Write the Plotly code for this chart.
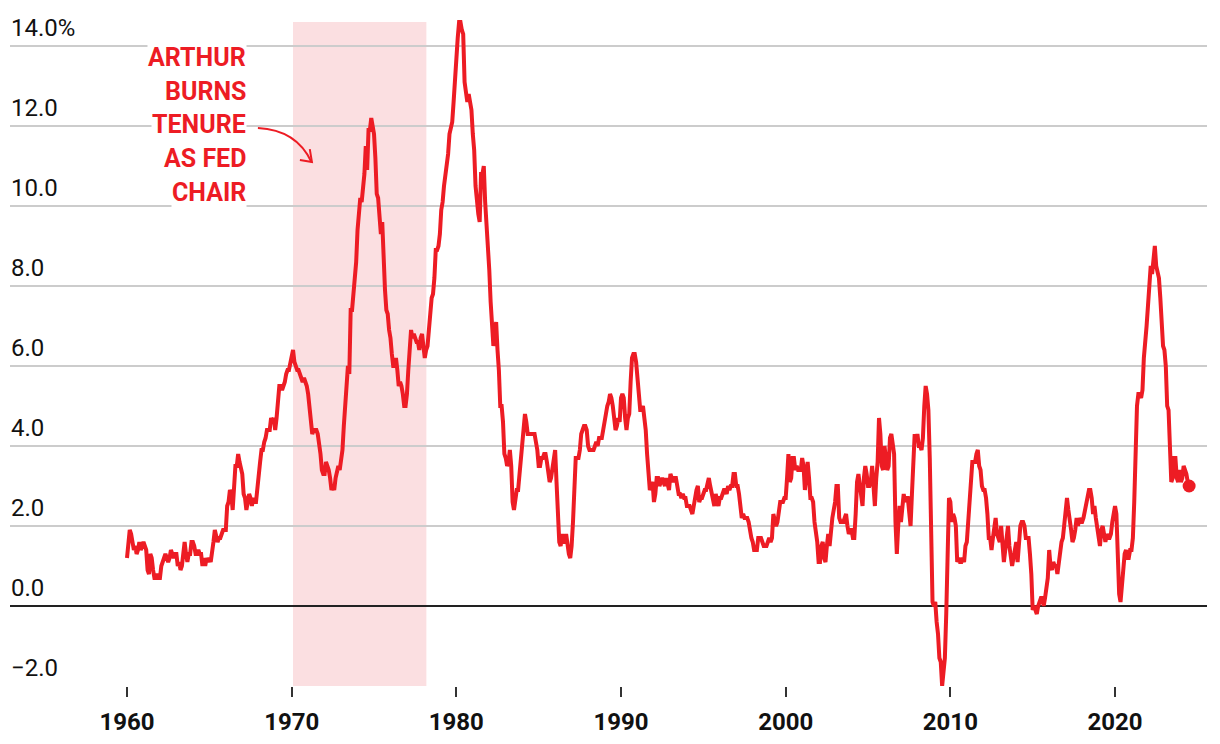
import numpy as np
import plotly.graph_objects as go

# Monthly CPI year-over-year change (%), Jan 1960 - Jul 2024
cpi_1960s = [
    1.2, 1.6, 1.9, 1.8, 1.6, 1.4, 1.5, 1.3, 1.4, 1.6, 1.4, 1.5,
    1.6, 1.5, 1.4, 0.9, 0.8, 1.3, 1.2, 0.9, 0.7, 0.7, 0.8, 0.7,
    0.7, 1.0, 1.1, 1.2, 1.3, 1.2, 1.1, 1.2, 1.4, 1.3, 1.2, 1.3,
    1.3, 1.0, 1.1, 0.9, 1.0, 1.3, 1.6, 1.3, 1.1, 1.3, 1.3, 1.6,
    1.6, 1.5, 1.3, 1.3, 1.4, 1.3, 1.3, 1.0, 1.2, 1.0, 1.2, 1.1,
    1.2, 1.1, 1.3, 1.6, 1.9, 1.7, 1.6, 1.7, 1.7, 1.8, 1.9, 1.9,
    1.9, 2.5, 2.6, 2.9, 2.8, 2.4, 2.9, 3.5, 3.5, 3.8, 3.6, 3.4,
    3.3, 2.8, 2.7, 2.4, 2.6, 2.8, 2.7, 2.5, 2.7, 2.6, 2.6, 3.0,
    3.4, 3.6, 3.9, 3.9, 4.1, 4.2, 4.4, 4.4, 4.4, 4.7, 4.6, 4.7,
    4.4, 4.7, 5.2, 5.5, 5.5, 5.4, 5.5, 5.6, 5.8, 5.9, 5.9, 6.1,
]
cpi_1970s = [
    6.2, 6.4, 6.1, 6.0, 5.9, 5.9, 5.8, 5.7, 5.6, 5.7, 5.6, 5.5,
    5.3, 5.0, 4.7, 4.3, 4.4, 4.4, 4.4, 4.3, 4.1, 3.8, 3.4, 3.3,
    3.3, 3.6, 3.5, 3.4, 3.2, 2.9, 3.0, 2.9, 3.2, 3.4, 3.5, 3.4,
    3.6, 3.9, 4.5, 5.1, 5.5, 6.0, 5.8, 7.4, 7.4, 7.8, 8.2, 8.6,
    9.4, 10.0, 10.2, 10.1, 10.5, 10.8, 11.5, 10.9, 11.9, 11.9, 12.2, 12.0,
    11.8, 11.2, 10.3, 10.2, 9.5, 9.3, 9.6, 8.6, 7.9, 7.4, 7.3, 6.9,
    6.7, 6.3, 6.0, 6.0, 6.2, 5.9, 5.5, 5.6, 5.5, 5.3, 5.0, 5.0,
    5.3, 5.9, 6.4, 6.9, 6.7, 6.8, 6.7, 6.6, 6.6, 6.4, 6.7, 6.8,
    6.5, 6.2, 6.4, 6.5, 6.9, 7.4, 7.7, 7.8, 8.2, 8.9, 8.9, 9.0,
    9.3, 9.9, 10.1, 10.5, 10.8, 10.9, 11.3, 11.8, 12.0, 12.1, 12.6, 13.3,
]
cpi_1980s = [
    13.9, 14.2, 14.6, 14.6, 14.4, 14.3, 13.1, 12.9, 12.6, 12.8, 12.6, 12.4,
    11.8, 11.4, 10.5, 10.0, 9.8, 9.6, 10.8, 10.8, 11.0, 10.1, 9.6, 8.9,
    8.4, 7.6, 6.8, 6.5, 6.7, 7.1, 6.4, 5.9, 5.0, 5.0, 4.6, 3.8,
    3.7, 3.5, 3.6, 3.9, 3.5, 2.6, 2.4, 2.6, 2.9, 2.9, 3.3, 3.8,
    4.2, 4.6, 4.8, 4.6, 4.3, 4.3, 4.3, 4.3, 4.3, 4.3, 4.1, 3.9,
    3.5, 3.5, 3.7, 3.7, 3.8, 3.8, 3.6, 3.3, 3.1, 3.2, 3.5, 3.8,
    3.9, 3.1, 2.2, 1.6, 1.5, 1.8, 1.6, 1.6, 1.8, 1.5, 1.3, 1.2,
    1.5, 2.1, 3.0, 3.7, 3.7, 3.7, 3.9, 4.3, 4.4, 4.5, 4.5, 4.4,
    4.0, 3.9, 3.9, 3.9, 3.9, 4.0, 4.1, 4.0, 4.2, 4.2, 4.2, 4.4,
    4.7, 4.8, 5.0, 5.1, 5.3, 5.2, 5.0, 4.7, 4.4, 4.5, 4.7, 4.6,
]
cpi_1990s = [
    5.2, 5.3, 5.2, 4.7, 4.4, 4.7, 4.8, 5.6, 6.2, 6.3, 6.3, 6.1,
    5.7, 5.3, 4.9, 4.9, 5.0, 4.7, 4.4, 3.8, 3.4, 2.9, 3.0, 3.1,
    2.6, 2.8, 3.2, 3.2, 3.0, 3.1, 3.2, 3.1, 3.0, 3.2, 3.0, 2.9,
    3.3, 3.2, 3.1, 3.2, 3.2, 3.0, 2.8, 2.8, 2.7, 2.8, 2.7, 2.7,
    2.5, 2.5, 2.5, 2.4, 2.3, 2.5, 2.8, 2.9, 3.0, 2.6, 2.7, 2.7,
    2.8, 2.9, 2.9, 3.1, 3.2, 3.0, 2.8, 2.6, 2.5, 2.8, 2.6, 2.5,
    2.7, 2.7, 2.8, 2.9, 2.9, 2.8, 3.0, 2.9, 3.0, 3.0, 3.3, 3.3,
    3.0, 3.0, 2.8, 2.5, 2.2, 2.3, 2.2, 2.2, 2.2, 2.1, 1.8, 1.7,
    1.6, 1.4, 1.4, 1.4, 1.7, 1.7, 1.7, 1.6, 1.5, 1.5, 1.5, 1.6,
    1.7, 1.6, 1.7, 2.3, 2.1, 2.0, 2.1, 2.3, 2.6, 2.6, 2.6, 2.7,
]
cpi_2000s = [
    2.7, 3.2, 3.8, 3.1, 3.2, 3.7, 3.7, 3.4, 3.5, 3.4, 3.4, 3.4,
    3.7, 3.5, 2.9, 3.3, 3.6, 3.2, 2.7, 2.7, 2.6, 2.1, 1.9, 1.6,
    1.1, 1.1, 1.5, 1.6, 1.2, 1.1, 1.5, 1.8, 1.5, 2.0, 2.2, 2.4,
    2.6, 3.0, 3.0, 2.2, 2.1, 2.1, 2.1, 2.2, 2.3, 2.0, 1.8, 1.9,
    1.9, 1.7, 1.7, 2.3, 3.1, 3.3, 3.0, 2.7, 2.5, 3.2, 3.5, 3.3,
    3.0, 3.0, 3.1, 3.5, 2.8, 2.5, 3.2, 3.6, 4.7, 4.3, 3.5, 3.4,
    4.0, 3.6, 3.4, 3.5, 4.2, 4.3, 4.1, 3.8, 2.1, 1.3, 2.0, 2.5,
    2.1, 2.4, 2.8, 2.6, 2.7, 2.7, 2.4, 2.0, 2.8, 3.5, 4.3, 4.1,
    4.3, 4.0, 4.0, 3.9, 4.2, 5.0, 5.5, 5.3, 4.9, 3.7, 1.1, 0.1,
    0.0, 0.1, -0.4, -0.7, -1.3, -1.4, -2.0, -1.5, -1.3, -0.2, 1.8, 2.7,
]
cpi_2010s = [
    2.6, 2.1, 2.3, 2.2, 2.0, 1.1, 1.2, 1.1, 1.1, 1.2, 1.1, 1.5,
    1.6, 2.1, 2.7, 3.2, 3.6, 3.6, 3.6, 3.8, 3.9, 3.5, 3.4, 3.0,
    2.9, 2.9, 2.7, 2.3, 1.7, 1.7, 1.4, 1.7, 2.0, 2.2, 1.8, 1.7,
    1.6, 2.0, 1.5, 1.1, 1.4, 1.8, 2.0, 1.5, 1.2, 1.0, 1.2, 1.5,
    1.6, 1.1, 1.5, 2.0, 2.1, 2.1, 2.0, 1.7, 1.7, 1.7, 1.3, 0.8,
    -0.1, 0.0, -0.1, -0.2, 0.0, 0.1, 0.2, 0.2, 0.0, 0.2, 0.5, 0.7,
    1.4, 1.0, 0.9, 1.1, 1.0, 1.0, 0.8, 1.1, 1.5, 1.6, 1.7, 2.1,
    2.5, 2.7, 2.4, 2.2, 1.9, 1.6, 1.7, 1.9, 2.2, 2.0, 2.2, 2.1,
    2.1, 2.2, 2.4, 2.5, 2.8, 2.9, 2.9, 2.7, 2.3, 2.5, 2.2, 1.9,
    1.6, 1.5, 1.9, 2.0, 1.8, 1.6, 1.8, 1.7, 1.7, 1.8, 2.1, 2.3,
]
cpi_2020s = [
    2.5, 2.3, 1.5, 0.3, 0.1, 0.6, 1.0, 1.3, 1.4, 1.2, 1.2, 1.4,
    1.4, 1.7, 2.6, 4.2, 5.0, 5.3, 5.3, 5.2, 5.4, 6.2, 6.8, 7.0,
    7.5, 7.9, 8.5, 8.3, 8.6, 9.0, 8.5, 8.3, 8.2, 7.7, 7.1, 6.5,
    6.4, 6.0, 5.0, 4.9, 4.0, 3.1, 3.2, 3.7, 3.7, 3.2, 3.1, 3.4,
    3.1, 3.2, 3.5, 3.4, 3.3, 3.1, 3.0,
]

y_ticks = [-2, 0, 2, 4, 6, 8, 10, 12, 14]
y_tick_text = ["−2.0", "0.0", "2.0", "4.0", "6.0", "8.0", "10.0", "12.0", "14.0%"]
x_ticks = [1960, 1970, 1980, 1990, 2000, 2010, 2020]
burns_start, burns_end = 1970.08, 1978.18
note_lines = ["ARTHUR", "BURNS", "TENURE", "AS FED", "CHAIR"]

values = cpi_1960s + cpi_1970s + cpi_1980s + cpi_1990s + cpi_2000s + cpi_2010s + cpi_2020s
years = 1960 + np.arange(len(values)) / 12.0

RED = "#ed1c24"
FONT = "Roboto"

fig = go.Figure()
fig.add_trace(go.Scatter(x=years, y=values, mode="lines",
                         line=dict(color=RED, width=4), hoverinfo="skip"))
fig.add_trace(go.Scatter(x=[years[-1]], y=[values[-1]], mode="markers",
                         marker=dict(color=RED, size=13), hoverinfo="skip",
                         cliponaxis=False))

# Burns tenure band
fig.add_shape(type="rect", xref="x", yref="y", x0=burns_start, x1=burns_end,
              y0=-2, y1=14.6, fillcolor="#fbdfe1", line_width=0, layer="below")

# y tick labels sitting above the gridlines
for v, t in zip(y_ticks, y_tick_text):
    fig.add_annotation(text=t, xref="paper", yref="y", x=0, y=v,
                       xanchor="left", yanchor="bottom", yshift=3,
                       showarrow=False, borderpad=0,
                       font=dict(family=FONT, size=24, color="#111111"))

# note text lines with white backgrounds
for i, t in enumerate(note_lines):
    fig.add_annotation(text=t, xref="paper", yref="paper",
                       x=(247 - 10) / 1197, y=1 - (58 + i * 33.5) / 686,
                       xanchor="right", yanchor="middle", showarrow=False,
                       bgcolor="white", borderpad=0,
                       font=dict(family=FONT, size=25, color=RED, weight="bold"))

# curved arrow
fig.add_shape(type="path", xref="x", yref="y",
              path="M 1967.95,11.95 Q 1970.3,11.9 1971.2,11.1",
              line=dict(color=RED, width=2))
fig.add_shape(type="path", xref="x", yref="y",
              path="M 1971.1,11.42 L 1971.23,11.1 L 1970.5,11.15",
              line=dict(color=RED, width=2))

fig.update_layout(
    width=1220, height=744,
    margin=dict(l=10, r=13, t=0, b=58),
    paper_bgcolor="white", plot_bgcolor="white",
    showlegend=False,
    xaxis=dict(range=[1952.895, 2025.585], showgrid=False, zeroline=False,
               showline=False, tickvals=x_ticks, ticktext=[str(v) for v in x_ticks],
               ticks="outside", ticklen=10, tickwidth=2, tickcolor="#333333",
               ticklabelstandoff=4,
               tickfont=dict(family=FONT, size=24, color="#111111", weight="bold")),
    yaxis=dict(range=[-2, 15.15], showgrid=True, gridcolor="#cccccc", gridwidth=2,
               zeroline=True, zerolinecolor="#222222", zerolinewidth=2,
               showline=False, tickvals=y_ticks, showticklabels=False, ticks=""),
)

fig.write_html("out.html")
